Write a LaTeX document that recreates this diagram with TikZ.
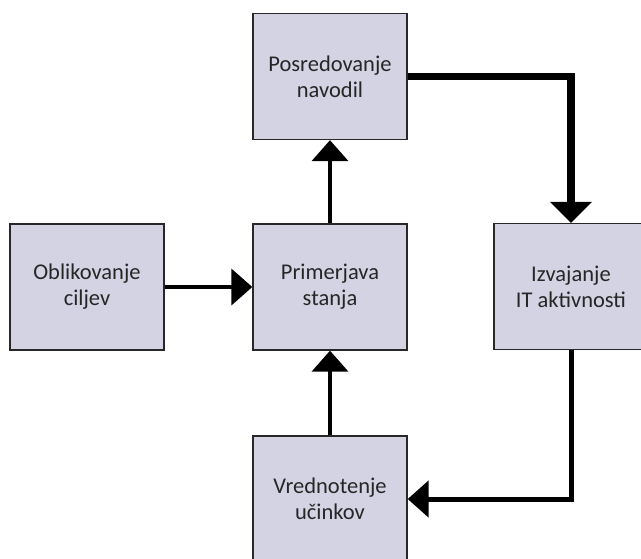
\documentclass[tikz,border=0pt]{standalone}
\usepackage{fontspec}
\setmainfont{Carlito}
\usetikzlibrary{arrows.meta}
\definecolor{boxfill}{RGB}{211,211,228}
\definecolor{boxline}{RGB}{40,40,40}
\begin{document}
\begin{tikzpicture}[x=1pt, y=-1pt,
    box/.style={draw=boxline, line width=1.3pt, fill=boxfill, minimum width=154pt,
      minimum height=126pt, align=center, inner sep=0pt, text=black!85,
      font=\fontsize{22.5}{26}\selectfont},
    link/.style={line width=4pt, -{Triangle[length=21pt, width=36pt]}},
    boldlink/.style={line width=7.5pt, -{Triangle[length=21pt, width=41pt]}}]
  % Okvir slike
  \useasboundingbox (0,0) rectangle (641,558);
  \clip (0,0) rectangle (641,558);

  % Bloki
  \node[box] (posred) at (330,76.5) {Posredovanje\\navodil};
  \node[box] (oblik) at (87,287) {Oblikovanje\\ciljev};
  \node[box] (primer) at (330,287) {Primerjava\\stanja};
  \node[box] (izvaj) at (571,286.5) {Izvajanje\\IT aktivnosti};
  \node[box] (vredn) at (330,499) {Vrednotenje\\učinkov};

  % Povezave
  \draw[link] (oblik.east) -- (primer.west);
  \draw[link] (primer.north) -- (posred.south);
  \draw[link] (vredn.north) -- (primer.south);
  \draw[boldlink] (posred.east) -| (izvaj.north);
  \draw[link, line width=5pt] (izvaj.south) |- (vredn.east);
\end{tikzpicture}
\end{document}
